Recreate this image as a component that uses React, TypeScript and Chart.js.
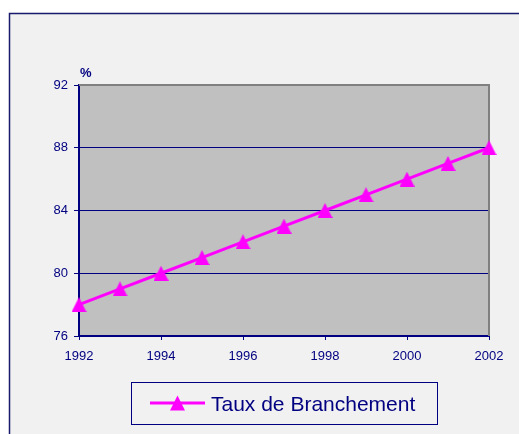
import React, { useEffect, useRef } from "react";
import { Chart, registerables } from "chart.js";

Chart.register(...registerables);

const years = ["1992", "1993", "1994", "1995", "1996", "1997", "1998", "1999", "2000", "2001", "2002"];
const tauxValues = [78, 79, 80, 81, 82, 83, 84, 85, 86, 87, 88];
const yMin = 76;
const yMax = 92;
const yStep = 4;
const seriesLabel = "Taux de Branchement";
const unitLabel = "%";

const NAVY = "#000080";
const MAGENTA = "#ff00ff";
const FONT = "'Liberation Sans', Arial, sans-serif";

function drawTri(ctx: CanvasRenderingContext2D, cx: number, cy: number, w: number, h: number) {
  ctx.beginPath();
  ctx.moveTo(cx, cy - h / 2);
  ctx.lineTo(cx + w / 2, cy + h / 2);
  ctx.lineTo(cx - w / 2, cy + h / 2);
  ctx.closePath();
  ctx.fill();
}

function makeTriangleImage(): HTMLCanvasElement {
  const c = document.createElement("canvas");
  c.width = 15;
  c.height = 15;
  const g = c.getContext("2d")!;
  g.fillStyle = MAGENTA;
  drawTri(g, 7.5, 7.5, 15, 15);
  return c;
}

const decorPlugin = {
  id: "decor",
  beforeDraw(chart: any) {
    const { ctx, width, height, chartArea } = chart;
    ctx.save();
    ctx.fillStyle = "#ffffff";
    ctx.fillRect(0, 0, width, height);
    ctx.fillStyle = "#f1f1f1";
    ctx.fillRect(9, 13, width - 9, height - 13);
    ctx.strokeStyle = "#1a1a6e";
    ctx.lineWidth = 1.5;
    ctx.beginPath();
    ctx.moveTo(9.5, height + 2);
    ctx.lineTo(9.5, 13.5);
    ctx.lineTo(width + 2, 13.5);
    ctx.stroke();
    ctx.fillStyle = "#c0c0c0";
    ctx.fillRect(chartArea.left, chartArea.top, chartArea.right - chartArea.left, chartArea.bottom - chartArea.top);
    ctx.restore();
  },
  beforeDatasetsDraw(chart: any) {
    const { ctx, chartArea } = chart;
    ctx.save();
    ctx.strokeStyle = "#808080";
    ctx.lineWidth = 2;
    ctx.beginPath();
    ctx.moveTo(chartArea.left, chartArea.top);
    ctx.lineTo(chartArea.right, chartArea.top);
    ctx.lineTo(chartArea.right, chartArea.bottom);
    ctx.stroke();
    ctx.restore();
  },
  afterDraw(chart: any) {
    const { ctx, chartArea } = chart;
    ctx.save();
    ctx.fillStyle = NAVY;
    ctx.font = `bold 13px ${FONT}`;
    ctx.textBaseline = "alphabetic";
    ctx.textAlign = "left";
    ctx.fillText(unitLabel, chartArea.left + 1, 77);
    ctx.strokeStyle = NAVY;
    ctx.lineWidth = 1;
    ctx.strokeRect(131.5, 382.5, 306, 42);
    ctx.strokeStyle = MAGENTA;
    ctx.lineWidth = 3;
    ctx.beginPath();
    ctx.moveTo(150, 403);
    ctx.lineTo(205, 403);
    ctx.stroke();
    ctx.fillStyle = MAGENTA;
    drawTri(ctx, 177.5, 403, 15, 15);
    ctx.fillStyle = NAVY;
    ctx.font = `21px ${FONT}`;
    ctx.fillText(seriesLabel, 211, 411);
    ctx.restore();
  },
};

export default function App() {
  const ref = useRef<HTMLCanvasElement>(null);
  useEffect(() => {
    if (!ref.current) return;
    const tri = makeTriangleImage();
    const chart = new Chart(ref.current, {
      type: "line",
      data: {
        labels: years,
        datasets: [
          {
            label: seriesLabel,
            data: tauxValues,
            borderColor: MAGENTA,
            backgroundColor: MAGENTA,
            borderWidth: 3,
            pointStyle: tri as any,
            pointRadius: 8,
            pointHoverRadius: 8,
            pointBorderWidth: 0,
            tension: 0,
            clip: false as any,
          },
        ],
      },
      options: {
        responsive: false,
        animation: false,
        layout: { padding: { top: 85, right: 30, left: 0, bottom: 0 } },
        plugins: { legend: { display: false }, tooltip: { enabled: false }, title: { display: false } },
        scales: {
          x: {
            type: "category",
            offset: false,
            afterFit: (s: any) => { s.height = 98; },
            border: { color: NAVY, width: 2 },
            grid: {
              drawOnChartArea: false,
              drawTicks: true,
              tickLength: 4,
              tickColor: (c: any) => (c.index % 2 === 0 ? NAVY : "transparent"),
            },
            ticks: {
              autoSkip: false,
              maxRotation: 0,
              padding: 9,
              color: NAVY,
              font: { family: FONT, size: 13 },
              callback: (_v: any, i: number) => (i % 2 === 0 ? years[i] : ""),
            },
          },
          y: {
            min: yMin,
            max: yMax,
            afterFit: (s: any) => { s.width = 79; },
            border: { color: NAVY, width: 2 },
            grid: {
              color: (c: any) => (c.tick && c.tick.value === yMax ? "transparent" : NAVY),
              lineWidth: 1,
              tickColor: NAVY,
              tickLength: 5,
            },
            ticks: {
              stepSize: yStep,
              padding: 6,
              color: NAVY,
              font: { family: FONT, size: 13 },
            },
          },
        },
      },
      plugins: [decorPlugin],
    });
    return () => chart.destroy();
  }, []);
  return (
    <div style={{ position: "fixed", left: 0, top: 0, width: 519, height: 434 }}>
      <canvas ref={ref} width={519} height={434} style={{ display: "block", width: 519, height: 434 }} />
    </div>
  );
}
